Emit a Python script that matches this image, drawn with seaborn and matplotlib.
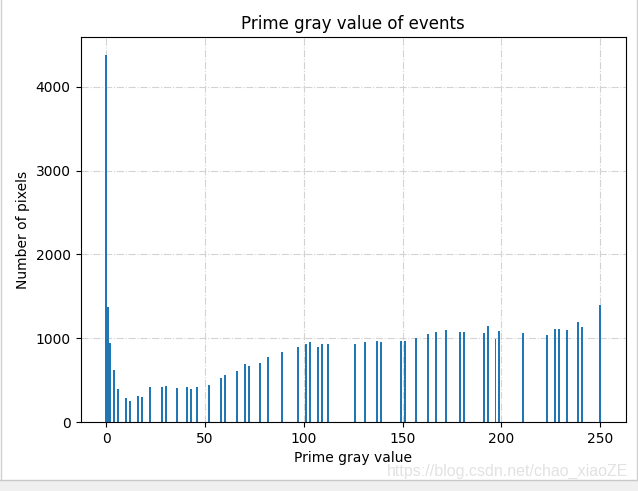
import matplotlib
matplotlib.use("Agg")
import matplotlib.pyplot as plt
import seaborn as sns
import pandas as pd
from matplotlib.patches import Rectangle
from matplotlib.lines import Line2D

gray_values = [0, 1, 2, 4, 6, 10, 12, 16, 18, 22, 28, 30, 36, 41, 43, 46, 52, 58,
               60, 66, 70, 72, 78, 82, 89, 97, 101, 103, 107, 109, 112, 126, 131,
               137, 139, 149, 151, 157, 163, 167, 172, 179, 181, 191, 193, 197,
               199, 211, 223, 227, 229, 233, 239, 241, 250]
pixel_counts = [4375, 1375, 945, 618, 391, 283, 251, 307, 299, 415, 415, 427, 405,
                417, 393, 417, 441, 525, 561, 609, 693, 669, 708, 776, 836, 896,
                932, 956, 896, 932, 932, 932, 956, 968, 956, 968, 968, 1000, 1051,
                1075, 1099, 1075, 1075, 1063, 1147, 992, 1087, 1063, 1039, 1111,
                1111, 1099, 1195, 1135, 1398]
x_ticks = [0, 50, 100, 150, 200, 250]
y_ticks = [0, 1000, 2000, 3000, 4000]

df = pd.DataFrame({"gray": gray_values, "count": pixel_counts})

fig = plt.figure(figsize=(6.38, 4.91), dpi=100)
ax = fig.add_axes([80.5 / 638, 1 - 422 / 491, (626 - 80.5) / 638, (422 - 37) / 491])

sns.barplot(data=df, x="gray", y="count", native_scale=True, width=1.0,
            color="#1f77b4", saturation=1, errorbar=None, linewidth=0, ax=ax)

ax.set_xticks(x_ticks)
ax.set_yticks(y_ticks)
ax.grid(True, linestyle="-.", color="#d3d3d3", linewidth=0.8)
ax.set_axisbelow(True)
ax.set_title("Prime gray value of events", fontsize=12)
ax.set_xlabel("Prime gray value", fontsize=10)
ax.set_ylabel("Number of pixels", fontsize=10)

# window chrome
fig.patches.append(Rectangle((0, 0), 1, 11 / 491, transform=fig.transFigure,
                             facecolor="#f0f0f0", edgecolor="none", zorder=0))
fig.lines.append(Line2D([0, 1], [11 / 491, 11 / 491], transform=fig.transFigure,
                        color="#c8c8c8", linewidth=1))
fig.lines.append(Line2D([0.5 / 638, 0.5 / 638], [11 / 491, 1], transform=fig.transFigure,
                        color="#d0d0d0", linewidth=1))
fig.lines.append(Line2D([637 / 638, 637 / 638], [11 / 491, 1], transform=fig.transFigure,
                        color="#d0d0d0", linewidth=1))
fig.text(628 / 638, 1 - 471 / 491, "https://blog.csdn.net/chao_xiaoZE",
         ha="right", va="center", fontsize=11.5, color="#e2e2e2",
         family="Liberation Sans")

fig.savefig("out.png", dpi=100)
